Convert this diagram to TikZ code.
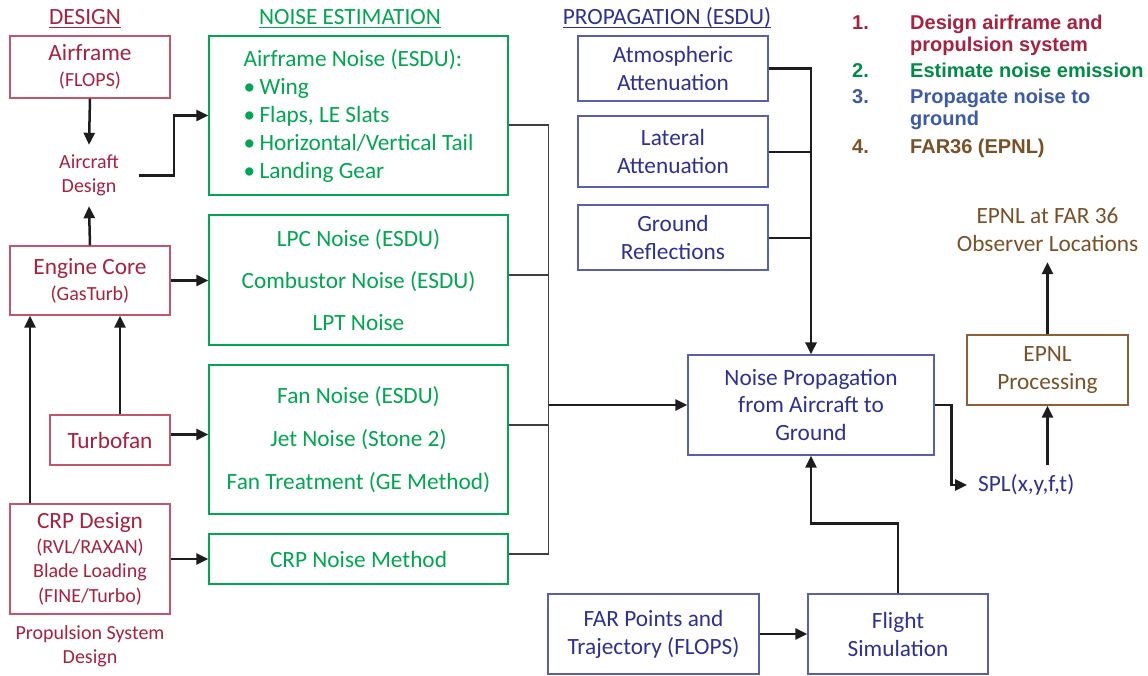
\documentclass[tikz,border=0pt]{standalone}
\usepackage{fontspec}
\setmainfont{Carlito}
\newfontfamily\legfont{Liberation Sans}
\usetikzlibrary{arrows.meta,calc}
\definecolor{dred}{RGB}{166,34,64}
\definecolor{dredb}{RGB}{195,85,108}
\definecolor{dgreen}{RGB}{0,166,81}
\definecolor{dblue}{RGB}{46,49,146}
\definecolor{dblueb}{RGB}{90,95,172}
\definecolor{lgreen}{RGB}{0,140,70}
\definecolor{lblue}{RGB}{60,90,170}
\definecolor{dbrown}{RGB}{122,80,38}
\definecolor{dbrownb}{RGB}{140,96,56}
\definecolor{lk}{RGB}{30,28,30}
\newcommand{\sm}{\fontsize{20}{24}\selectfont}
\begin{document}
\begin{tikzpicture}[x=1pt,y=-1pt,
  big/.style={font=\fontsize{23.3}{#1}\selectfont},
  big/.default=27.5,
  box/.style={draw, line width=1.2pt, inner sep=0pt, align=center},
  redbox/.style={box, draw=dredb, text=dred},
  grbox/.style={box, draw=dgreen, text=dgreen},
  blbox/.style={box, draw=dblueb, text=dblue},
  brbox/.style={box, draw=dbrownb, text=dbrown},
  hdr/.style={inner sep=0pt, font=\fontsize{23.3}{27}\selectfont, anchor=base},
  leg/.style={inner sep=0pt, anchor=base west, font=\legfont\bfseries\fontsize{20}{22}\selectfont},
  arr/.style={line width=2.5pt, draw=lk, -{Triangle[length=12pt,width=11pt]}},
  ln/.style={line width=2.5pt, draw=lk},
  thinln/.style={line width=1.3pt, draw=lk!85},
]
\useasboundingbox (0,0) rectangle (1148,675);
\fill[white] (0,0) rectangle (1148,675);
% headers
\node[hdr, text=dred] (hd) at (85,24) {DESIGN};
\draw[dred, line width=1.8pt] ($(hd.base west)+(0,3.5)$) -- ($(hd.base east)+(0,3.5)$);
\node[hdr, text=dgreen] (hn) at (350,24) {NOISE ESTIMATION};
\draw[dgreen, line width=1.8pt] ($(hn.base west)+(0,3.5)$) -- ($(hn.base east)+(0,3.5)$);
\node[hdr, text=dblue] (hp) at (667,24) {PROPAGATION (ESDU)};
\draw[dblue, line width=1.8pt] ($(hp.base west)+(0,3.5)$) -- ($(hp.base east)+(0,3.5)$);

% design column
\node[redbox, big=26, minimum width=160pt, minimum height=62pt] (airframe) at (90,67) {Airframe\\{\sm (FLOPS)}};
\node[inner sep=0pt, text=dred, align=center, font=\fontsize{20}{24}\selectfont, minimum width=100pt, minimum height=61pt] (adn) at (89,175.5) {Aircraft\\Design};
\node[redbox, big=26, minimum width=160pt, minimum height=69pt] (engine) at (90,280.5) {Engine Core\\{\sm (GasTurb)}};
\node[redbox, big, minimum width=120pt, minimum height=50pt] (turbofan) at (110,440) {Turbofan};
\node[redbox, big=24.7, minimum width=160pt, minimum height=110pt] (crp) at (90,559) {CRP Design\\{\sm (RVL/RAXAN)}\\{\sm Blade Loading}\\{\sm (FINE/Turbo)}};
\node[inner sep=0pt, text=dred, align=center, font=\fontsize{20}{24}\selectfont] (psd) at (90,646) {Propulsion System\\Design};

% noise estimation column
\node[grbox, big=28, align=left, minimum width=299pt, minimum height=159pt] (an1) at (358.5,115.5)
  {Airframe Noise (ESDU):\\\makebox[16pt][l]{•}Wing\\\makebox[16pt][l]{•}Flaps, LE Slats\\\makebox[16pt][l]{•}Horizontal/Vertical Tail\\\makebox[16pt][l]{•}Landing Gear};
\node[grbox, big=42, minimum width=299pt, minimum height=130pt] (an2) at (358.5,280) {LPC Noise (ESDU)\\Combustor Noise (ESDU)\\LPT Noise};
\node[grbox, big=43, minimum width=299pt, minimum height=149pt] (an3) at (358.5,439.5) {Fan Noise (ESDU)\\Jet Noise (Stone 2)\\Fan Treatment (GE Method)};
\node[grbox, big, minimum width=299pt, minimum height=50pt] (an4) at (358.5,559) {CRP Noise Method};

% propagation column
\node[blbox, big, minimum width=190pt, minimum height=65pt] (atm) at (673,68.5) {Atmospheric\\Attenuation};
\node[blbox, big, minimum width=190pt, minimum height=71pt] (lat) at (673,151.5) {Lateral\\Attenuation};
\node[blbox, big, minimum width=190pt, minimum height=65pt] (gnd) at (673,237.5) {Ground\\Reflections};
\node[blbox, big, minimum width=246pt, minimum height=100pt] (np) at (811,405) {Noise Propagation\\from Aircraft to\\Ground};
\node[blbox, big=28, minimum width=211pt, minimum height=80pt] (far) at (653.5,634) {FAR Points and\\Trajectory (FLOPS)};
\node[blbox, big=28, minimum width=180pt, minimum height=80pt] (fs) at (898,634) {Flight\\Simulation};
\node[inner xsep=11pt, inner ysep=9pt, anchor=west, text=dblue, big] (spl) at (967,485) {SPL(x,y,f,t)};

% EPNL
\node[brbox, big=28, minimum width=161pt, minimum height=70pt] (epnl) at (1047.5,370) {EPNL\\Processing};
\node[inner sep=0pt, text=dbrown, align=center, big=28, minimum height=64pt] (obs) at (1047.5,230) {EPNL at FAR 36\\Observer Locations};

% legend
\node[leg, text=dred] (n1) at (852,29) {1.};
\node[leg, text=dred] (t1a) at (910,29) {Design airframe and};
\node[leg, text=dred] (t1b) at (910,51.5) {propulsion system};
\node[leg, text=lgreen] (n2) at (852,77) {2.};
\node[leg, text=lgreen] (t2) at (910,77) {Estimate noise emission};
\node[leg, text=lblue] (n3) at (852,103) {3.};
\node[leg, text=lblue] (t3a) at (910,103) {Propagate noise to};
\node[leg, text=lblue] (t3b) at (910,125) {ground};
\node[leg, text=dbrown] (n4) at (852,153) {4.};
\node[leg, text=dbrown] (t4) at (910,153) {FAR36 (EPNL)};

% design connectors
\draw[arr] (airframe.south) -- (adn.north);
\draw[arr] (engine.north) -- (adn.south);
\draw[arr] (adn.east) -- ++(35,0) |- (an1.west);
\draw[arr] (engine.east) -- (engine.east -| an2.west);
\draw[arr] ($(turbofan.east)+(0,-5.5)$) -- ($(turbofan.east -| an3.west)+(0,-5.5)$);
\draw[arr] (crp.east) -- (crp.east -| an4.west);
\draw[arr] ($(turbofan.north)+(10,0)$) -- ($(turbofan.north |- engine.south)+(10,0)$);
\draw[arr] ($(crp.north)+(-60,0)$) -- ($(crp.north |- engine.south)+(-60,0)$);

% noise bus
\coordinate (bt) at ($(an1.east)+(40,9.5)$);
\coordinate (bb) at ($(an4.east)+(40,-5)$);
\draw[thinln] ($(an1.east)+(0,9.5)$) -- (bt) -- (bb) -- ($(an4.east)+(0,-5)$);
\draw[thinln] ($(an2.east)+(0,-5)$) -- ($(an2.east -| bt)+(0,-5)$);
\draw[thinln] ($(an3.east)+(0,-14.5)$) -- ($(an3.east -| bt)+(0,-14.5)$);
\draw[arr] (np.west -| bt) -- (np.west);

% propagation bus
\draw[arr, line width=2.8pt] (atm.east) -| (np.north);
\draw[ln, line width=2pt] (lat.east) -- (lat.east -| np.north);
\draw[ln, line width=2pt] (gnd.east) -- (gnd.east -| np.north);

% flight path
\draw[arr] (fs.north) -- ++(0,-70) -| (np.south);
\draw[arr] (far.east) -- (fs.west);
\draw[arr] (np.east) -- ++(17,0) |- (spl.west);
\draw[arr] (spl.north -| epnl.south) -- (epnl.south);
\draw[arr] (epnl.north) -- (obs.south);
\end{tikzpicture}
\end{document}
